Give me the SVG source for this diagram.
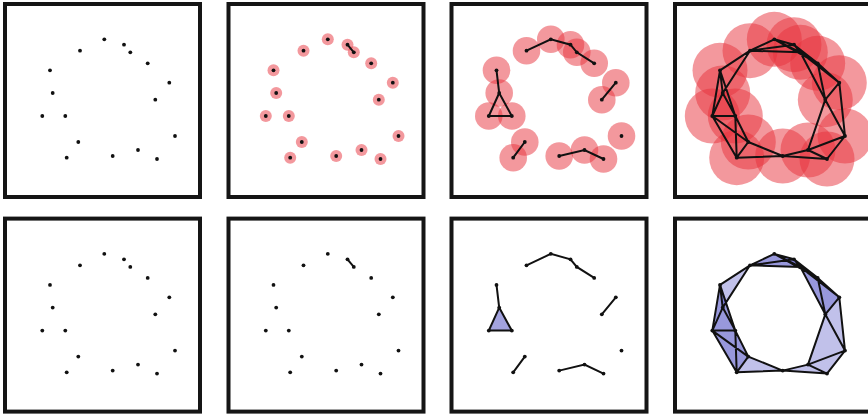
<svg xmlns="http://www.w3.org/2000/svg" xmlns:xlink="http://www.w3.org/1999/xlink" width="868" height="415" viewBox="0 0 868 415">
<style>
.frame{fill:#fff;stroke:#151515;stroke-width:4}
.dot{fill:#111}
.edge{stroke:#111;stroke-width:2;stroke-linecap:round;fill:none}
.ball{fill:#e8323c;fill-opacity:0.5}
.tri{fill:#4848c0;fill-opacity:0.34;stroke:none}
</style>
<defs>
<g id="dots">
<circle class="dot" cx="104.3" cy="39.3" r="1.9"/>
<circle class="dot" cx="124" cy="44.7" r="1.9"/>
<circle class="dot" cx="130.3" cy="52.3" r="1.9"/>
<circle class="dot" cx="80" cy="50.7" r="1.9"/>
<circle class="dot" cx="147.7" cy="63.3" r="1.9"/>
<circle class="dot" cx="50" cy="70.3" r="1.9"/>
<circle class="dot" cx="169.3" cy="82.7" r="1.9"/>
<circle class="dot" cx="52.7" cy="93" r="1.9"/>
<circle class="dot" cx="155.3" cy="99.7" r="1.9"/>
<circle class="dot" cx="42.3" cy="116" r="1.9"/>
<circle class="dot" cx="65.3" cy="116" r="1.9"/>
<circle class="dot" cx="175" cy="136" r="1.9"/>
<circle class="dot" cx="78.3" cy="142" r="1.9"/>
<circle class="dot" cx="138" cy="150" r="1.9"/>
<circle class="dot" cx="66.7" cy="157.7" r="1.9"/>
<circle class="dot" cx="112.7" cy="156" r="1.9"/>
<circle class="dot" cx="157" cy="159" r="1.9"/>
</g>
<path id="e2" class="edge" d="M124,44.7L130.3,52.3"/>
<path id="e3" class="edge" d="M80,50.7L104.3,39.3L124,44.7L130.3,52.3L147.7,63.3M169.3,82.7L155.3,99.7M50,70.3L52.7,93L42.3,116L65.3,116L52.7,93M78.3,142L66.7,157.7M112.7,156L138,150L157,159"/>
<path id="e4" class="edge" d="M104.3,39.3L124,44.7M104.3,39.3L130.3,52.3M104.3,39.3L80,50.7M104.3,39.3L147.7,63.3M124,44.7L130.3,52.3M124,44.7L80,50.7M124,44.7L147.7,63.3M130.3,52.3L80,50.7M130.3,52.3L147.7,63.3M130.3,52.3L169.3,82.7M130.3,52.3L155.3,99.7M80,50.7L50,70.3M80,50.7L52.7,93M147.7,63.3L169.3,82.7M147.7,63.3L155.3,99.7M50,70.3L52.7,93M50,70.3L42.3,116M50,70.3L65.3,116M169.3,82.7L155.3,99.7M169.3,82.7L175,136M52.7,93L42.3,116M52.7,93L65.3,116M155.3,99.7L175,136M155.3,99.7L138,150M42.3,116L65.3,116M42.3,116L78.3,142M42.3,116L66.7,157.7M65.3,116L78.3,142M65.3,116L66.7,157.7M78.3,142L66.7,157.7M78.3,142L112.7,156M66.7,157.7L112.7,156M112.7,156L138,150M112.7,156L157,159M138,150L157,159M138,150L175,136M157,159L175,136"/>
</defs>

<g id="panel-1-1">
<rect class="frame" x="5" y="4" width="195" height="193"/>
<use xlink:href="#dots"/>
</g>

<g id="panel-1-2" transform="translate(223.5,0)">
<rect class="frame" x="5" y="4" width="195" height="193"/>
<g id="balls-2">
<circle class="ball" cx="104.3" cy="39.3" r="6"/>
<circle class="ball" cx="124" cy="44.7" r="6"/>
<circle class="ball" cx="130.3" cy="52.3" r="6"/>
<circle class="ball" cx="80" cy="50.7" r="6"/>
<circle class="ball" cx="147.7" cy="63.3" r="6"/>
<circle class="ball" cx="50" cy="70.3" r="6"/>
<circle class="ball" cx="169.3" cy="82.7" r="6"/>
<circle class="ball" cx="52.7" cy="93" r="6"/>
<circle class="ball" cx="155.3" cy="99.7" r="6"/>
<circle class="ball" cx="42.3" cy="116" r="6"/>
<circle class="ball" cx="65.3" cy="116" r="6"/>
<circle class="ball" cx="175" cy="136" r="6"/>
<circle class="ball" cx="78.3" cy="142" r="6"/>
<circle class="ball" cx="138" cy="150" r="6"/>
<circle class="ball" cx="66.7" cy="157.7" r="6"/>
<circle class="ball" cx="112.7" cy="156" r="6"/>
<circle class="ball" cx="157" cy="159" r="6"/>
</g>
<use xlink:href="#e2"/>
<use xlink:href="#dots"/>
</g>

<g id="panel-1-3" transform="translate(446.5,0)">
<rect class="frame" x="5" y="4" width="195" height="193"/>
<g id="balls-3">
<circle class="ball" cx="104.3" cy="39.3" r="13.8"/>
<circle class="ball" cx="124" cy="44.7" r="13.8"/>
<circle class="ball" cx="130.3" cy="52.3" r="13.8"/>
<circle class="ball" cx="80" cy="50.7" r="13.8"/>
<circle class="ball" cx="147.7" cy="63.3" r="13.8"/>
<circle class="ball" cx="50" cy="70.3" r="13.8"/>
<circle class="ball" cx="169.3" cy="82.7" r="13.8"/>
<circle class="ball" cx="52.7" cy="93" r="13.8"/>
<circle class="ball" cx="155.3" cy="99.7" r="13.8"/>
<circle class="ball" cx="42.3" cy="116" r="13.8"/>
<circle class="ball" cx="65.3" cy="116" r="13.8"/>
<circle class="ball" cx="175" cy="136" r="13.8"/>
<circle class="ball" cx="78.3" cy="142" r="13.8"/>
<circle class="ball" cx="138" cy="150" r="13.8"/>
<circle class="ball" cx="66.7" cy="157.7" r="13.8"/>
<circle class="ball" cx="112.7" cy="156" r="13.8"/>
<circle class="ball" cx="157" cy="159" r="13.8"/>
</g>
<use xlink:href="#e3"/>
<use xlink:href="#dots"/>
</g>

<g id="panel-1-4" transform="translate(670,0)">
<rect class="frame" x="5" y="4" width="195" height="193"/>
<g id="balls-4">
<circle class="ball" cx="104.3" cy="39.3" r="27.5"/>
<circle class="ball" cx="124" cy="44.7" r="27.5"/>
<circle class="ball" cx="130.3" cy="52.3" r="27.5"/>
<circle class="ball" cx="80" cy="50.7" r="27.5"/>
<circle class="ball" cx="147.7" cy="63.3" r="27.5"/>
<circle class="ball" cx="50" cy="70.3" r="27.5"/>
<circle class="ball" cx="169.3" cy="82.7" r="27.5"/>
<circle class="ball" cx="52.7" cy="93" r="27.5"/>
<circle class="ball" cx="155.3" cy="99.7" r="27.5"/>
<circle class="ball" cx="42.3" cy="116" r="27.5"/>
<circle class="ball" cx="65.3" cy="116" r="27.5"/>
<circle class="ball" cx="175" cy="136" r="27.5"/>
<circle class="ball" cx="78.3" cy="142" r="27.5"/>
<circle class="ball" cx="138" cy="150" r="27.5"/>
<circle class="ball" cx="66.7" cy="157.7" r="27.5"/>
<circle class="ball" cx="112.7" cy="156" r="27.5"/>
<circle class="ball" cx="157" cy="159" r="27.5"/>
</g>
<use xlink:href="#e4"/>
<use xlink:href="#dots"/>
</g>

<g id="panel-2-1" transform="translate(0,214.6)">
<rect class="frame" x="5" y="4" width="195" height="193"/>
<use xlink:href="#dots"/>
</g>

<g id="panel-2-2" transform="translate(223.5,214.6)">
<rect class="frame" x="5" y="4" width="195" height="193"/>
<use xlink:href="#e2"/>
<use xlink:href="#dots"/>
</g>

<g id="panel-2-3" transform="translate(446.5,214.6)">
<rect class="frame" x="5" y="4" width="195" height="193"/>
<polygon class="tri" points="52.7,93 42.3,116 65.3,116" style="fill-opacity:0.5"/>
<use xlink:href="#e3"/>
<use xlink:href="#dots"/>
</g>

<g id="panel-2-4" transform="translate(670,214.6)">
<rect class="frame" x="5" y="4" width="195" height="193"/>
<g id="triangles-4">
<polygon class="tri" points="104.3,39.3 124,44.7 130.3,52.3"/>
<polygon class="tri" points="104.3,39.3 124,44.7 80,50.7"/>
<polygon class="tri" points="104.3,39.3 124,44.7 147.7,63.3"/>
<polygon class="tri" points="104.3,39.3 130.3,52.3 80,50.7"/>
<polygon class="tri" points="104.3,39.3 130.3,52.3 147.7,63.3"/>
<polygon class="tri" points="124,44.7 130.3,52.3 80,50.7"/>
<polygon class="tri" points="124,44.7 130.3,52.3 147.7,63.3"/>
<polygon class="tri" points="130.3,52.3 147.7,63.3 169.3,82.7"/>
<polygon class="tri" points="130.3,52.3 147.7,63.3 155.3,99.7"/>
<polygon class="tri" points="130.3,52.3 169.3,82.7 155.3,99.7"/>
<polygon class="tri" points="147.7,63.3 169.3,82.7 155.3,99.7"/>
<polygon class="tri" points="169.3,82.7 155.3,99.7 175,136"/>
<polygon class="tri" points="155.3,99.7 175,136 138,150"/>
<polygon class="tri" points="175,136 138,150 157,159"/>
<polygon class="tri" points="138,150 112.7,156 157,159"/>
<polygon class="tri" points="78.3,142 66.7,157.7 112.7,156"/>
<polygon class="tri" points="42.3,116 65.3,116 78.3,142"/>
<polygon class="tri" points="42.3,116 65.3,116 66.7,157.7"/>
<polygon class="tri" points="42.3,116 78.3,142 66.7,157.7"/>
<polygon class="tri" points="65.3,116 78.3,142 66.7,157.7"/>
<polygon class="tri" points="52.7,93 42.3,116 65.3,116"/>
<polygon class="tri" points="50,70.3 52.7,93 42.3,116"/>
<polygon class="tri" points="50,70.3 52.7,93 65.3,116"/>
<polygon class="tri" points="50,70.3 42.3,116 65.3,116"/>
<polygon class="tri" points="80,50.7 50,70.3 52.7,93"/>
</g>
<use xlink:href="#e4"/>
<use xlink:href="#dots"/>
</g>
</svg>
